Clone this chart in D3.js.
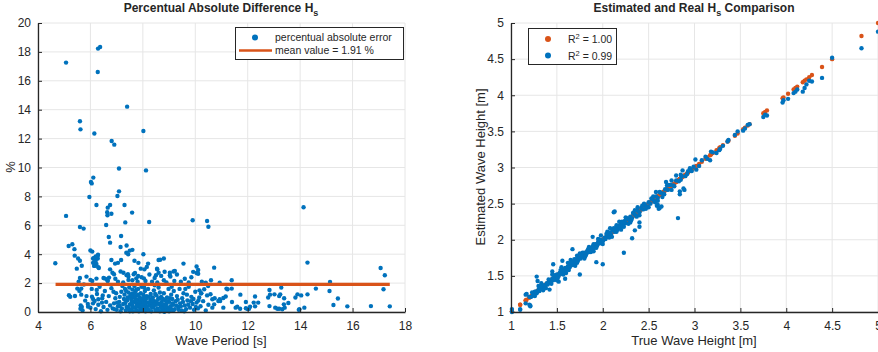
<!DOCTYPE html>
<html>
<head>
<meta charset="utf-8">
<script src="https://cdn.jsdelivr.net/npm/d3@7"></script>
<style>
  html, body { margin: 0; padding: 0; background: #fff; }
  text { font-family: 'Liberation Sans', Arial, Helvetica, sans-serif; fill: #262626; }
</style>
</head>
<body>
<div id="chart"></div>
<script>
// ---- DATA ----
// left panel: [wave period (s), percentual absolute error (%)]
const errHigh = [
  [5.07, 17.26], [6.29, 18.23], [6.37, 18.34], [6.28, 16.61], [7.4, 14.21], [5.6, 13.2], [5.62, 12.64],
  [6.15, 12.35], [8.02, 12.53], [6.81, 11.83], [6.91, 11.58], [7.09, 9.93], [8.12, 9.8], [6.11, 9.3],
  [6.02, 9.0], [6.05, 8.9], [5.96, 7.96], [7.09, 8.35], [7.03, 8.03], [6.23, 7.4], [7.3, 7.4], [6.66, 7.22],
  [6.75, 7.4], [6.64, 6.9], [6.65, 6.7], [6.8, 6.8], [7.59, 6.88], [6.6, 6.02], [7.33, 6.2], [8.24, 6.23],
  [5.07, 6.65], [5.6, 5.88], [5.74, 5.77], [6.7, 5.19], [6.75, 4.8], [7.17, 5.26], [9.9, 6.35], [10.45, 6.3],
  [10.5, 5.9], [14.13, 7.25]
];
const errMid = [
  [5.17, 4.57], [5.31, 4.69], [5.39, 4.35], [6.0, 4.26], [7.38, 4.6], [7.15, 4.5], [7.5, 4.25], [7.6, 4.3],
  [7.37, 4.1], [7.44, 4.0], [8.02, 4.0], [4.66, 3.37], [5.4, 3.9], [5.53, 3.7], [5.6, 3.55], [5.67, 3.2],
  [5.48, 3.0], [6.1, 3.7], [6.2, 3.55], [6.28, 3.9], [6.28, 3.7], [6.1, 3.4], [6.17, 3.2], [6.3, 3.1],
  [6.8, 3.6], [6.94, 3.35], [7.05, 3.4], [7.17, 3.6], [7.68, 3.55], [7.83, 3.4], [8.2, 3.35], [8.6, 3.6],
  [8.66, 3.62], [8.8, 3.7], [8.55, 2.95], [6.75, 2.95], [5.85, 2.45], [5.6, 2.35], [5.55, 2.1], [6.5, 2.35],
  [6.65, 2.2], [7.38, 2.55], [7.45, 2.45], [7.75, 2.33], [8.04, 2.33], [8.5, 2.55], [9.03, 2.55], [9.17, 2.8],
  [9.92, 2.78], [10.05, 3.15], [10.05, 2.7], [10.72, 3.07], [14.28, 3.42], [17.07, 3.05], [17.23, 2.54],
  [11.39, 2.2], [10.93, 2.03], [9.55, 3.35], [8.06, 2.95], [8.15, 3.12], [7.92, 3.0], [6.07, 4.18],
  [6.14, 3.74], [6.2, 3.85], [6.29, 3.97], [6.14, 3.46], [6.23, 3.32], [6.14, 3.19], [6.32, 3.05],
  [6.0, 2.22], [6.07, 2.15], [6.23, 2.31], [6.56, 2.31], [6.66, 2.15], [6.71, 2.38], [6.84, 2.72],
  [6.9, 2.61], [7.26, 2.72], [7.43, 2.61], [7.45, 2.22], [7.65, 2.61], [7.82, 2.49], [8.54, 3.0],
  [8.6, 2.72], [8.83, 2.79], [9.03, 2.72], [9.22, 2.84], [10.11, 2.91], [10.11, 2.65], [5.5, 1.62]
];
const errLow = [
  [5.58, 1.46], [5.65, 1.62], [5.18, 1.16], [5.23, 1.06], [5.41, 1.11], [5.63, 0.46], [5.67, 0.35],
  [5.62, 0.23], [5.8, 0.79], [5.91, 0.37], [6.06, 1.06], [6.24, 1.53], [6.3, 0.88], [6.16, 0.76],
  [6.1, 0.6], [6.47, 1.15], [6.44, 0.65], [10.16, 1.5], [10.23, 1.29], [10.34, 1.57], [10.4, 2.03],
  [10.49, 1.8], [10.58, 1.23], [10.65, 0.88], [10.74, 0.95], [10.88, 0.76], [10.93, 0.88], [10.65, 0.3],
  [10.72, 0.53], [11.07, 0.3], [11.19, 1.62], [11.07, 0.97], [11.72, 1.2], [11.93, 0.69], [12.28, 1.07],
  [12.23, 0.65], [12.4, 0.65], [12.28, 0.39], [12.09, 0.37], [12.05, 0.23], [11.93, 0.26], [12.0, 0.2],
  [11.71, 0.23], [11.6, 0.37], [11.54, 0.3], [11.4, 0.69], [11.39, 1.62], [11.16, 1.07], [11.23, 1.57],
  [10.95, 0.76], [12.83, 1.52], [12.85, 1.2], [13.02, 1.22], [13.2, 1.1], [13.24, 1.22], [13.39, 0.95],
  [13.28, 1.69], [13.55, 0.62], [13.82, 1.0], [12.78, 1.0], [12.83, 0.41], [13.05, 0.3], [13.13, 0.23],
  [13.2, 0.23], [13.32, 0.19], [13.38, 0.53], [13.41, 0.3], [13.95, 0.15], [13.9, 1.22], [14.04, 1.15],
  [14.28, 1.22], [13.97, 0.19], [14.16, 0.3], [14.6, 1.62], [15.12, 1.45], [15.44, 0.93], [15.27, 0.48],
  [15.8, 0.39], [16.7, 0.41], [17.42, 0.39], [17.18, 1.57], [15.14, 2.08]
];
const errCluster = [
  [7.0, 0.15], [7.05, 0.4], [7.1, 0.7], [7.12, 1.05], [7.18, 1.4], [7.2, 0.25], [7.25, 0.55], [7.28, 0.9],
  [7.3, 1.2], [7.32, 1.6], [7.35, 0.1], [7.38, 0.35], [7.4, 0.8], [7.42, 1.0], [7.45, 1.35], [7.48, 1.7],
  [7.5, 0.05], [7.5, 0.5], [6.95, 0.95], [6.98, 1.3], [7.55, 0.2], [7.55, 0.9], [7.58, 1.25], [7.6, 0.45],
  [7.6, 1.55], [7.62, 0.05], [7.65, 0.7], [7.65, 1.05], [7.68, 1.8], [7.7, 0.3], [7.7, 0.95], [7.72, 1.4],
  [7.75, 0.12], [7.75, 0.6], [7.78, 1.15], [7.8, 0.38], [7.8, 0.85], [7.82, 1.6], [7.85, 0.05], [7.85, 0.5],
  [7.88, 1.0], [7.9, 0.25], [7.9, 0.75], [7.92, 1.3], [7.95, 0.6], [7.95, 1.75], [7.98, 0.1], [8.0, 0.4],
  [8.0, 0.95], [8.02, 1.2], [8.05, 0.2], [8.05, 0.7], [8.08, 1.45], [8.1, 0.05], [8.1, 0.55], [8.12, 0.9],
  [8.15, 0.3], [8.15, 1.1], [8.18, 0.65], [8.2, 1.6], [8.22, 0.15], [8.25, 0.45], [8.28, 0.85], [8.3, 1.25],
  [8.32, 0.05], [8.35, 0.6], [8.38, 1.0], [8.4, 0.3], [8.42, 1.5], [8.45, 0.75], [8.48, 0.1], [8.5, 0.5],
  [8.52, 1.15], [8.55, 0.25], [8.58, 0.9], [8.6, 1.7], [8.62, 0.55], [8.65, 0.05], [8.68, 0.35], [8.7, 1.05],
  [8.72, 0.7], [8.75, 0.15], [8.78, 0.45], [8.8, 1.3], [8.82, 0.02], [8.85, 0.25], [8.85, 0.8], [8.88, 0.1],
  [8.9, 0.55], [8.92, 1.0], [8.95, 0.3], [8.98, 1.6], [9.0, 0.05], [9.0, 0.7], [9.05, 0.4], [9.08, 1.2],
  [9.1, 0.15], [9.12, 0.9], [9.15, 0.5], [9.18, 1.45], [9.22, 0.2], [9.25, 0.75], [9.3, 1.1], [9.35, 0.35],
  [9.4, 1.6], [9.42, 0.6], [9.48, 0.1], [9.5, 0.95], [9.55, 1.3], [9.6, 0.45], [9.65, 0.2], [9.7, 0.8],
  [9.75, 1.75], [9.8, 0.3], [9.85, 1.05], [9.9, 0.55], [9.95, 0.15], [10.0, 1.4], [10.05, 0.65], [10.1, 0.25],
  [10.15, 1.0], [10.2, 0.4], [10.3, 0.75], [10.4, 0.1], [10.45, 1.15], [10.5, 0.5], [5.65, 1.2], [5.7, 0.1],
  [5.75, 1.9], [5.85, 1.1], [5.9, 0.55], [6.0, 0.3], [6.05, 1.6], [6.1, 0.9], [6.2, 0.2], [6.25, 1.25],
  [6.3, 0.5], [6.35, 1.75], [6.4, 0.05], [6.45, 0.95], [6.5, 0.35], [6.55, 1.45], [6.6, 0.7], [6.65, 0.15],
  [6.7, 1.1], [6.75, 0.45], [6.8, 1.65], [6.85, 0.25], [6.9, 0.6], [6.95, 2.3], [7.05, 2.1], [7.15, 2.8],
  [7.25, 2.05], [7.6, 2.2], [7.7, 2.7], [7.8, 2.1], [7.95, 2.4], [8.1, 2.15], [8.25, 2.6], [8.35, 2.1],
  [8.45, 2.35], [8.55, 2.05], [8.7, 2.5], [8.8, 2.2], [8.9, 2.05], [9.05, 2.45], [9.2, 2.15], [9.3, 2.6],
  [9.45, 2.1], [9.6, 2.3], [9.75, 2.05], [9.85, 2.4], [10.25, 2.1], [10.6, 2.2]
];
const errCluster2 = [
  [7.33, 0.62], [7.36, 1.45], [7.44, 0.28], [7.52, 1.12], [7.57, 0.68], [7.63, 0.32], [7.67, 1.3],
  [7.73, 0.82], [7.77, 0.4], [7.83, 1.2], [7.87, 0.7], [7.93, 0.45], [7.97, 0.88], [8.03, 0.6], [8.07, 1.0],
  [8.13, 0.4], [8.17, 0.18], [8.23, 1.05], [8.27, 0.65], [8.33, 0.35], [8.37, 0.8], [8.43, 0.5], [8.47, 1.25],
  [8.53, 0.7], [8.57, 0.12], [8.63, 0.95], [8.67, 0.6], [8.73, 0.28], [8.77, 0.9], [8.83, 0.5], [8.87, 0.35],
  [8.93, 0.75], [8.97, 0.15], [9.03, 0.95], [9.07, 0.25], [9.13, 0.6], [9.17, 0.1], [9.27, 0.45], [9.33, 0.85],
  [9.37, 0.15], [9.45, 0.4], [9.53, 0.7], [9.58, 0.05], [9.68, 1.2], [9.73, 0.5], [9.83, 0.75], [9.93, 0.9],
  [10.02, 0.35], [10.12, 0.8], [10.22, 1.3], [7.12, 0.42], [7.22, 1.8], [7.02, 0.65], [6.92, 0.2], [6.88, 1.4],
  [7.15, 0.05], [8.45, 1.85], [8.05, 1.7], [7.75, 1.55], [9.1, 1.75], [9.62, 1.6], [8.65, 1.35]
];
const meanError = 1.91;
const meanRange = [4.67, 17.42];

// right panel: [true Hs (m), estimated Hs (m)]
const hsTop = [
  [5.0, 4.88], [4.82, 4.65], [4.5, 4.52], [4.39, 4.24], [4.28, 4.19], [4.25, 4.2], [4.22, 4.15], [4.2, 4.1],
  [4.18, 4.05], [4.12, 4.08], [4.1, 4.05], [4.08, 4.03], [4.02, 3.95], [3.97, 3.93], [3.96, 3.9], [3.79, 3.72],
  [3.77, 3.73], [3.75, 3.7], [3.6, 3.6], [3.58, 3.59], [3.55, 3.54], [3.53, 3.51], [3.44, 3.45], [3.37, 3.38],
  [3.36, 3.36], [3.28, 3.26], [3.27, 3.24], [3.24, 3.2], [3.18, 3.22], [3.17, 3.1], [3.12, 3.15], [3.01, 3.11],
  [2.99, 3.01], [3.02, 2.97], [2.96, 2.96], [2.87, 2.96], [2.85, 2.9], [2.8, 2.89], [2.75, 2.82], [2.69, 2.8],
  [2.84, 2.67], [2.88, 2.71], [2.89, 2.69], [2.84, 2.63], [2.65, 2.59], [2.6, 2.48], [2.59, 2.47], [2.82, 2.3],
  [2.61, 2.43], [2.62, 2.44], [2.64, 2.46], [2.4, 2.24], [2.4, 2.18], [2.35, 2.13], [2.32, 2.02], [2.12, 2.38],
  [2.13, 2.39], [2.23, 1.82], [1.89, 2.04], [1.93, 1.69], [2.0, 1.66], [1.75, 1.52], [1.67, 1.87], [1.56, 1.71],
  [1.46, 1.66], [1.45, 1.56], [1.59, 1.46], [1.42, 1.31], [1.28, 1.49], [1.29, 1.43], [1.16, 1.24], [1.21, 1.08],
  [1.1, 1.04], [1.01, 1.04], [1.01, 1.0], [1.1, 1.03], [1.16, 1.12], [1.2, 1.1], [1.17, 1.25], [1.2, 1.21],
  [1.26, 1.28], [1.21, 1.09]
];
const hsBand = [
  [1.22, 1.21], [1.24, 1.25], [1.25, 1.23], [1.27, 1.28], [1.28, 1.26], [1.3, 1.31], [1.31, 1.29], [1.33, 1.34],
  [1.34, 1.32], [1.36, 1.37], [1.37, 1.35], [1.39, 1.4], [1.4, 1.38], [1.42, 1.43], [1.43, 1.41], [1.45, 1.46],
  [1.46, 1.44], [1.48, 1.49], [1.49, 1.47], [1.5, 1.52], [1.52, 1.5], [1.53, 1.54], [1.55, 1.53], [1.56, 1.57],
  [1.58, 1.56], [1.59, 1.61], [1.61, 1.59], [1.62, 1.63], [1.64, 1.62], [1.65, 1.67], [1.67, 1.65], [1.68, 1.69],
  [1.7, 1.68], [1.71, 1.73], [1.73, 1.71], [1.74, 1.75], [1.76, 1.74], [1.77, 1.79], [1.79, 1.77], [1.8, 1.82],
  [1.82, 1.8], [1.83, 1.84], [1.85, 1.83], [1.86, 1.88], [1.88, 1.86], [1.89, 1.91], [1.91, 1.89], [1.92, 1.94],
  [1.94, 1.92], [1.95, 1.97], [1.97, 1.95], [1.98, 2.0], [2.0, 1.98], [2.02, 2.03], [2.03, 2.01], [2.05, 2.07],
  [2.06, 2.04], [2.08, 2.1], [2.09, 2.07], [2.11, 2.13], [2.13, 2.11], [2.14, 2.16], [2.16, 2.14], [2.17, 2.19],
  [2.19, 2.17], [2.2, 2.22], [2.22, 2.2], [2.24, 2.26], [2.25, 2.23], [2.27, 2.29], [2.29, 2.27], [2.3, 2.32],
  [2.32, 2.3], [2.34, 2.36], [2.36, 2.34], [2.38, 2.4], [2.4, 2.38], [2.42, 2.44], [2.44, 2.42], [2.46, 2.48],
  [2.48, 2.46], [2.5, 2.52], [2.52, 2.5], [2.54, 2.56], [2.56, 2.54], [2.58, 2.6], [2.6, 2.58], [2.63, 2.65],
  [2.66, 2.64], [2.68, 2.7], [2.71, 2.69], [2.74, 2.76], [2.77, 2.75], [2.8, 2.82], [2.83, 2.81], [2.86, 2.88],
  [2.9, 2.88], [2.93, 2.95], [2.97, 2.95], [1.3, 1.36], [1.35, 1.3], [1.45, 1.52], [1.5, 1.44], [1.55, 1.62],
  [1.6, 1.54], [1.65, 1.72], [1.7, 1.64], [1.75, 1.81], [1.8, 1.74], [1.85, 1.9], [1.9, 1.84], [1.95, 2.01],
  [2.0, 1.94], [2.05, 2.11], [2.1, 2.04], [2.15, 2.2], [2.2, 2.14], [2.25, 2.31], [2.3, 2.24], [2.35, 2.41],
  [2.4, 2.34], [2.45, 2.5], [2.5, 2.45], [2.55, 2.6], [2.6, 2.54], [2.7, 2.75], [2.75, 2.69], [2.85, 2.83],
  [2.92, 2.91], [1.33, 1.4], [1.52, 1.42], [1.72, 1.78], [1.62, 1.68], [1.98, 2.06], [2.08, 2.16], [2.28, 2.22],
  [2.18, 2.25], [2.38, 2.45], [2.58, 2.66]
];
const hsBand2 = [
  [1.23, 1.27], [1.26, 1.22], [1.32, 1.35], [1.38, 1.33], [1.41, 1.45], [1.44, 1.39], [1.47, 1.51], [1.51, 1.47],
  [1.54, 1.58], [1.57, 1.52], [1.63, 1.58], [1.66, 1.69], [1.69, 1.73], [1.72, 1.68], [1.78, 1.82], [1.81, 1.77],
  [1.84, 1.87], [1.87, 1.83], [1.9, 1.94], [1.93, 1.89], [1.96, 2.0], [1.99, 1.96], [2.04, 2.08], [2.07, 2.03],
  [2.12, 2.16], [2.15, 2.11], [2.21, 2.25], [2.23, 2.18], [2.26, 2.3], [2.31, 2.27], [2.33, 2.37], [2.37, 2.32],
  [2.43, 2.47], [2.47, 2.43], [2.53, 2.57], [2.57, 2.52], [2.62, 2.66], [2.67, 2.63], [2.72, 2.76], [2.78, 2.74],
  [2.95, 2.99], [3.05, 3.02], [3.08, 3.1], [3.14, 3.12], [3.2, 3.21], [3.31, 3.3], [3.47, 3.5]
];

const periodTicks = [4, 6, 8, 10, 12, 14, 16, 18];
const errorTicks = [0, 2, 4, 6, 8, 10, 12, 14, 16, 18, 20];
const hsTicks = [1, 1.5, 2, 2.5, 3, 3.5, 4, 4.5, 5];

const BLUE = '#0072BD';
const ORANGE = '#D95319';

// ---- DRAW ----
const svg = d3.select('#chart').append('svg').attr('width', 878).attr('height', 352);

// one MATLAB-like axes with grid, inward ticks, no box
const makeAxes = (left, right, top, bottom, xDomain, yDomain, xTicks, yTicks) => {
  const x = d3.scaleLinear().domain(xDomain).range([left, right]);
  const y = d3.scaleLinear().domain(yDomain).range([bottom, top]);
  const g = svg.append('g');

  // grid
  g.append('g').selectAll('line').data(xTicks).join('line')
    .attr('x1', (d) => x(d)).attr('x2', (d) => x(d)).attr('y1', top).attr('y2', bottom)
    .attr('stroke', '#e6e6e6').attr('stroke-width', 1);
  g.append('g').selectAll('line').data(yTicks).join('line')
    .attr('x1', left).attr('x2', right).attr('y1', (d) => y(d)).attr('y2', (d) => y(d))
    .attr('stroke', '#e6e6e6').attr('stroke-width', 1);

  const xAxis = d3.axisBottom(x).tickValues(xTicks).tickSize(-4).tickPadding(9).tickFormat(d3.format('~g'));
  const yAxis = d3.axisLeft(y).tickValues(yTicks).tickSize(-4).tickPadding(7).tickFormat(d3.format('~g'));

  return { x, y, g, xAxis, yAxis, left, right, top, bottom };
};

const styleAxis = (sel) => {
  sel.select('.domain').attr('stroke', '#262626').attr('stroke-width', 1.3);
  sel.selectAll('.tick line').attr('stroke', '#262626').attr('stroke-width', 1);
  sel.selectAll('.tick text').attr('font-size', 12).attr('fill', '#262626')
    .attr('font-family', "'Liberation Sans', Arial, sans-serif");
};

const finishAxes = (ax) => {
  const xg = svg.append('g').attr('transform', `translate(0,${ax.bottom})`).call(ax.xAxis.tickSizeOuter(0));
  const yg = svg.append('g').attr('transform', `translate(${ax.left},0)`).call(ax.yAxis.tickSizeOuter(0));
  styleAxis(xg);
  styleAxis(yg);
};

const titleWithSub = (cx, y, before, sub, after) => {
  const t = svg.append('text').attr('x', cx).attr('y', y).attr('text-anchor', 'middle')
    .attr('font-size', 12).attr('font-weight', 'bold');
  t.append('tspan').text(before);
  t.append('tspan').attr('dy', 4).attr('font-size', 9).text(sub);
  t.append('tspan').attr('dy', -4).text(after);
};

// ---- LEFT PANEL ----
const L = makeAxes(38, 405, 23, 312, [4, 18], [0, 20], periodTicks, errorTicks);
const errAll = [...errHigh, ...errMid, ...errLow, ...errCluster, ...errCluster2];

L.g.append('g').selectAll('circle').data(errAll).join('circle')
  .attr('cx', (d) => L.x(d[0])).attr('cy', (d) => L.y(d[1])).attr('r', 2.2).attr('fill', BLUE);

L.g.append('line')
  .attr('x1', L.x(meanRange[0])).attr('x2', L.x(meanRange[1]))
  .attr('y1', L.y(meanError)).attr('y2', L.y(meanError))
  .attr('stroke', ORANGE).attr('stroke-width', 3.2);

finishAxes(L);

titleWithSub(221, 12, 'Percentual Absolute Difference H', 's', '');
svg.append('text').attr('x', 221).attr('y', 345).attr('text-anchor', 'middle').attr('font-size', 13)
  .text('Wave Period [s]');
svg.append('text').attr('transform', 'translate(15,167) rotate(-90)').attr('text-anchor', 'middle')
  .attr('font-size', 13).text('%');

// legend left
const lg = svg.append('g');
lg.append('rect').attr('x', 235.5).attr('y', 27.5).attr('width', 168).attr('height', 32)
  .attr('fill', '#fff').attr('stroke', '#262626').attr('stroke-width', 1);
lg.append('circle').attr('cx', 255).attr('cy', 37.5).attr('r', 3).attr('fill', BLUE);
lg.append('text').attr('x', 275).attr('y', 41).attr('font-size', 10.5).text('percentual absolute error');
lg.append('line').attr('x1', 239).attr('x2', 272).attr('y1', 50.5).attr('y2', 50.5)
  .attr('stroke', ORANGE).attr('stroke-width', 2.5);
lg.append('text').attr('x', 275).attr('y', 54).attr('font-size', 10.5).text('mean value = 1.91 %');

// ---- RIGHT PANEL ----
const R = makeAxes(511, 878, 23, 312, [1, 5], [1, 5], hsTicks, hsTicks);
const hsAll = [...hsTop, ...hsBand, ...hsBand2];

// real vs real first, estimated on top
R.g.append('g').selectAll('circle').data(hsAll).join('circle')
  .attr('cx', (d) => R.x(d[0])).attr('cy', (d) => R.y(d[0])).attr('r', 2.2).attr('fill', ORANGE);
R.g.append('g').selectAll('circle').data(hsAll).join('circle')
  .attr('cx', (d) => R.x(d[0])).attr('cy', (d) => R.y(d[1])).attr('r', 2.2).attr('fill', BLUE);

finishAxes(R);

titleWithSub(694, 12, 'Estimated and Real H', 's', ' Comparison');
svg.append('text').attr('x', 694).attr('y', 345).attr('text-anchor', 'middle').attr('font-size', 13)
  .text('True Wave Height [m]');
svg.append('text').attr('transform', 'translate(485,167) rotate(-90)').attr('text-anchor', 'middle')
  .attr('font-size', 13).text('Estimated Wave Height [m]');

// legend right
const rg = svg.append('g');
rg.append('rect').attr('x', 528.5).attr('y', 28.5).attr('width', 88).attr('height', 36)
  .attr('fill', '#fff').attr('stroke', '#262626').attr('stroke-width', 1);
const rItems = [['1.00', ORANGE], ['0.99', BLUE]];
rItems.forEach(([v, c], i) => {
  const cy = 39 + i * 16.5;
  rg.append('circle').attr('cx', 548).attr('cy', cy).attr('r', 3).attr('fill', c);
  const t = rg.append('text').attr('x', 568).attr('y', cy + 4).attr('font-size', 10.5);
  t.append('tspan').text('R');
  t.append('tspan').attr('dy', -4).attr('font-size', 7.5).text('2');
  t.append('tspan').attr('dy', 4).text(` = ${v}`);
});
</script>
</body>
</html>
